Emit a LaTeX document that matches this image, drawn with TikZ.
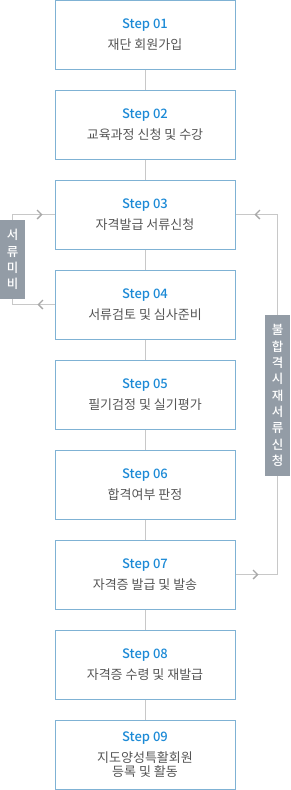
\documentclass[tikz,border=0pt]{standalone}
\usepackage{fontspec}
\setmainfont{Noto Sans CJK KR}
\newfontfamily\stepfont{Noto Sans CJK KR Medium}
\usepackage{tikz}
\usetikzlibrary{
	arrows.meta,
	decorations.markings
}
\usepackage{xcolor}
\definecolor{boxblue}{HTML}{7FB2D4}
\definecolor{stepblue}{HTML}{1C8AD6}
\definecolor{txtgray}{HTML}{555555}
\definecolor{linegray}{HTML}{C8C8C8}
\definecolor{tipgray}{HTML}{A8A8A8}
\definecolor{tabgray}{HTML}{939CA6}

\tikzset{
	stepbox/.style={draw=boxblue,line width=1pt,minimum width=180pt,minimum height=69pt,
		inner sep=0pt,align=center,text=txtgray,font=\fontsize{13}{14}\selectfont},
	link/.style={draw=linegray,line width=1pt},
	tab/.style={fill=tabgray,text=white,minimum width=25pt,inner sep=0pt,align=center,
		font=\stepfont\fontsize{12.5}{16.3}\selectfont},
	chev/.style={postaction={decorate,decoration={markings,
		mark=at position #1 with {\arrow[tipgray,line width=1.3pt]{Straight Barb[length=4.5pt,width=9pt]}}}}}
}

\newcommand{\stepno}[1]{{\stepfont\color{stepblue}Step #1}\\[7pt]}

\begin{document}
\begin{tikzpicture}[x=1pt,y=-1pt,>=Stealth]
			\useasboundingbox (0,0) rectangle (290,790);
			
			\node[stepbox] (s1) at (145,34.5) {\stepno{01}재단 회원가입};
			\node[stepbox] (s2) at (145,124.5) {\stepno{02}교육과정 신청 및 수강};
			\node[stepbox] (s3) at (145,214.5) {\stepno{03}자격발급 서류신청};
			\node[stepbox] (s4) at (145,304.5) {\stepno{04}서류검토 및 심사준비};
			\node[stepbox] (s5) at (145,394.5) {\stepno{05}필기검정 및 실기평가};
			\node[stepbox] (s6) at (145,484.5) {\stepno{06}합격여부 판정};
			\node[stepbox] (s7) at (145,574.5) {\stepno{07}자격증 발급 및 발송};
			\node[stepbox] (s8) at (145,664.5) {\stepno{08}자격증 수령 및 재발급};
			\node[stepbox] (s9) at (145,754.5) {\stepno{09}지도양성특활회원\\등록 및 활동};
			
			\draw[link] (s1)--(s2);
			\draw[link] (s2)--(s3);
			\draw[link] (s3)--(s4);
			\draw[link] (s4)--(s5);
			\draw[link] (s5)--(s6);
			\draw[link] (s6)--(s7);
			\draw[link] (s7)--(s8);
			\draw[link] (s8)--(s9);
			
			% return paths
			\coordinate (l3) at (12,214.5);
			\coordinate (l4) at (12,304.5);
			\coordinate (r3) at (277,214.5);
			\coordinate (r7) at (277,574.5);
			
			\draw[link,chev=17pt,chev=-12pt] (s4.west)--(l4)--(l3)--(s3.west);
			\draw[link,chev=23pt,chev=-19pt] (s7.east)--(r7)--(r3)--(s3.east);
			
			\node[tab,minimum height=79pt] (missing) at (12.5,259.5) {서\\류\\미\\비};
			\node[tab,minimum height=161pt] (resubmit) at (277.5,395.5)
			{불\\합\\격\\시\\재\\서\\류\\신\\청};
			
		\end{tikzpicture}
\end{document}
